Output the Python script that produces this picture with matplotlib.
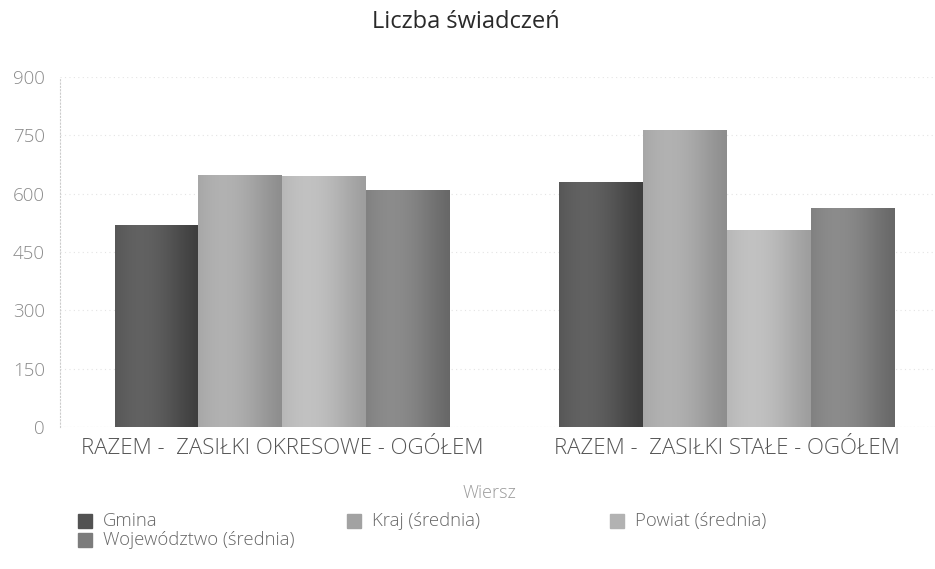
import numpy as np
import matplotlib
matplotlib.use("Agg")
import matplotlib.pyplot as plt
from matplotlib.patches import Rectangle

plt.rcParams["font.family"] = ["Open Sans", "DejaVu Sans"]

title = "Liczba świadczeń"
categories = ["RAZEM -  ZASIŁKI OKRESOWE - OGÓŁEM", "RAZEM -  ZASIŁKI STAŁE - OGÓŁEM"]
series = ["Gmina", "Kraj (średnia)", "Powiat (średnia)", "Województwo (średnia)"]
gmina = [519, 631]
kraj = [647, 765]
powiat = [645, 506]
wojewodztwo = [609, 563]
values = [gmina, kraj, powiat, wojewodztwo]
y_ticks = [0, 150, 300, 450, 600, 750, 900]

base_colors = ["#525252", "#a2a2a2", "#b2b2b2", "#7c7c7c"]

W, H = 935, 569
fig = plt.figure(figsize=(W / 100, H / 100), dpi=100)
ax = fig.add_axes([60 / W, (H - 427) / H, 889 / W, 350 / H])

x = np.arange(len(categories))
group_w = 0.754
bar_w = group_w / len(series)


def shade(hex_color, n=64):
    # soft horizontal shading: lighter band left of centre, a little darker to the right
    rgb = np.array(matplotlib.colors.to_rgb(hex_color))
    t = np.linspace(0, 1, n)
    k = 0.08 * np.cos((t - 0.3) * np.pi * 1.1) - 0.02
    cols = np.clip(rgb[None, :] + k[:, None], 0, 1)
    return cols[None, :, :]


for i, (name, vals) in enumerate(zip(series, values)):
    offs = x - group_w / 2 + bar_w * (i + 0.5)
    bars = ax.bar(offs, vals, width=bar_w, color=base_colors[i], linewidth=0, label=name)
    for b in bars:
        x0, w, h = b.get_x(), b.get_width(), b.get_height()
        im = ax.imshow(shade(base_colors[i]), extent=[x0, x0 + w, 0, h],
                       aspect="auto", interpolation="bicubic", zorder=2.1)
        im.set_clip_path(b)

light = dict(fontweight="light")
ax.set_xlim(-0.5, 1.5)
ax.set_ylim(0, 900)
ax.set_yticks(y_ticks)
ax.set_xticks(x)
ax.set_xticklabels(categories, fontsize=16, color="#555555", **light)
ax.set_yticklabels([str(v) for v in y_ticks], fontsize=13.5, color="#8a8a8a", **light)
ax.tick_params(axis="y", length=0, pad=11)
ax.tick_params(axis="x", length=0, pad=8)
for s in ["top", "right", "bottom"]:
    ax.spines[s].set_visible(False)
ax.spines["left"].set_color("#cccccc")
ax.spines["left"].set_linestyle((0, (1, 2)))
ax.spines["left"].set_linewidth(0.8)
ax.grid(axis="y", color="#e4e4e4", linestyle=(0, (1, 3)), linewidth=0.8)
ax.axhline(0, color="#cccccc", linestyle=(0, (1, 2)), linewidth=0.8, zorder=1)
ax.set_axisbelow(True)

fig.text(466 / W, 1 - 22 / H, title, ha="center", va="center", fontsize=17, color="#2a2a2a")
fig.text(489 / W, 1 - 493 / H, "Wiersz", ha="center", va="center", fontsize=13,
         color="#9a9a9a", **light)

# legend: three fixed-width columns, row-major order
col_x = [78, 347, 610]
row_y = [521, 540]
for i, name in enumerate(series):
    cx = col_x[i % 3]
    cy = row_y[i // 3]
    fig.patches.append(Rectangle((cx / W, 1 - (cy + 7) / H), 14 / W, 14 / H,
                                 transform=fig.transFigure, color=base_colors[i]))
    fig.text((cx + 25) / W, 1 - cy / H, name, ha="left", va="center",
             fontsize=13.3, color="#666666", **light)

fig.savefig("out.png", dpi=100)
